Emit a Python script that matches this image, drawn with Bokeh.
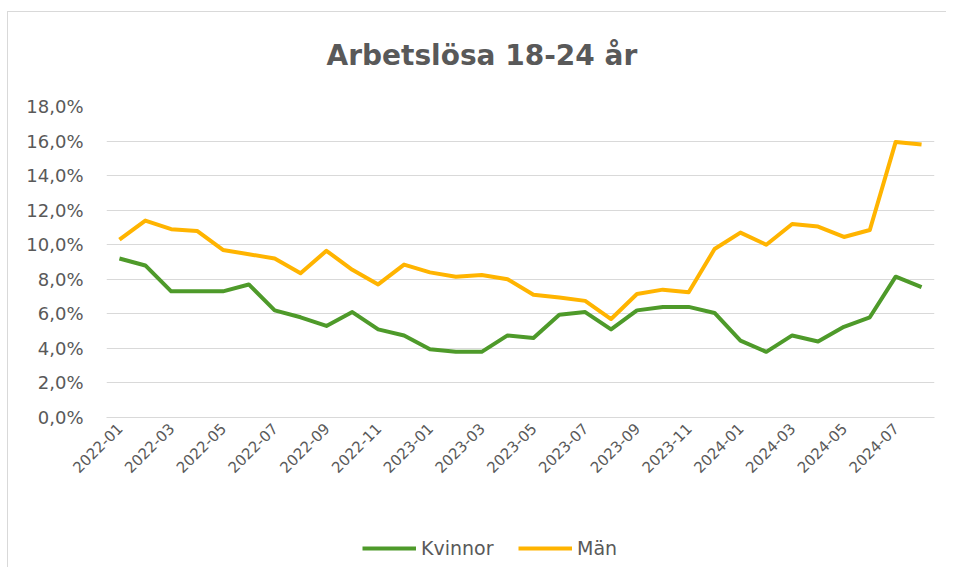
from bokeh.plotting import figure
from bokeh.models import Legend, LegendItem, FixedTicker, Range1d, Label
from bokeh.layouts import column
from bokeh.embed import file_html
from bokeh.resources import INLINE
import math

# ---- data ----
months = ["2022-01", "2022-02", "2022-03", "2022-04", "2022-05", "2022-06",
          "2022-07", "2022-08", "2022-09", "2022-10", "2022-11", "2022-12",
          "2023-01", "2023-02", "2023-03", "2023-04", "2023-05", "2023-06",
          "2023-07", "2023-08", "2023-09", "2023-10", "2023-11", "2023-12",
          "2024-01", "2024-02", "2024-03", "2024-04", "2024-05", "2024-06",
          "2024-07", "2024-08"]
kvinnor = [9.2, 8.8, 7.3, 7.3, 7.3, 7.7, 6.2, 5.8, 5.3, 6.1, 5.1, 4.75,
           3.95, 3.8, 3.8, 4.75, 4.6, 5.95, 6.1, 5.1, 6.2, 6.4, 6.4, 6.05,
           4.45, 3.8, 4.75, 4.4, 5.25, 5.8, 8.15, 7.55]
man = [10.3, 11.4, 10.9, 10.8, 9.7, 9.45, 9.2, 8.35, 9.65, 8.55, 7.7, 8.85,
       8.4, 8.15, 8.25, 8.0, 7.1, 6.95, 6.75, 5.7, 7.15, 7.4, 7.25, 9.75,
       10.7, 10.0, 11.2, 11.05, 10.45, 10.85, 15.95, 15.8]
y_ticks = [0, 2, 4, 6, 8, 10, 12, 14, 16, 18]
y_tick_labels = ["0,0%", "2,0%", "4,0%", "6,0%", "8,0%", "10,0%", "12,0%",
                 "14,0%", "16,0%", "18,0%"]
title_text = "Arbetslösa 18-24 år"
series_names = ["Kvinnor", "Män"]

x = list(range(len(months)))
x_ticks = x[::2]

TXT = "#595959"
GRID = "#d9d9d9"
GREEN = "#4E9A2A"
GOLD = "#FFB400"
W = 938
FW = 828

# ---- title strip (its frame is aligned with the chart frame) ----
p0 = figure(width=W, height=60, min_border=0, output_backend="svg",
            toolbar_location=None, x_range=Range1d(0, FW), y_range=Range1d(0, 60),
            x_axis_location=None, y_axis_location=None)
p0.grid.visible = False
p0.outline_line_color = None
p0.add_layout(Label(x=220, y=17, text=title_text, text_align="left",
                    text_baseline="middle", text_font="DejaVu Sans",
                    text_font_style="bold", text_font_size="28px",
                    text_color=TXT))

# ---- main chart ----
p = figure(frame_width=FW, frame_height=311, output_backend="svg",
           toolbar_location=None, title=None,
           min_border_left=98, min_border_right=12, min_border_top=34,
           min_border_bottom=114,
           x_range=Range1d(-0.5, len(months) - 0.5), y_range=Range1d(0, 18))
p.outline_line_color = None
p.background_fill_color = "white"

p.yaxis.ticker = FixedTicker(ticks=y_ticks)
p.yaxis.major_label_overrides = {t: l for t, l in zip(y_ticks, y_tick_labels)}
p.yaxis.axis_line_color = None
p.yaxis.major_tick_line_color = None
p.yaxis.major_tick_out = 0
p.yaxis.major_tick_in = 0
p.yaxis.minor_tick_line_color = None
p.yaxis.major_label_standoff = 23
p.yaxis.major_label_text_font = "DejaVu Sans"
p.yaxis.major_label_text_font_size = "18px"
p.yaxis.major_label_text_color = TXT

p.xaxis.ticker = FixedTicker(ticks=x_ticks)
p.xaxis.major_label_overrides = {i: months[i] for i in x_ticks}
p.xaxis.major_label_orientation = math.pi / 4
p.xaxis.axis_line_color = GRID
p.xaxis.major_tick_line_color = None
p.xaxis.major_tick_out = 0
p.xaxis.major_tick_in = 0
p.xaxis.minor_tick_line_color = None
p.xaxis.major_label_standoff = 8
p.xaxis.major_label_text_font = "DejaVu Sans"
p.xaxis.major_label_text_font_size = "15px"
p.xaxis.major_label_text_color = TXT

p.xgrid.grid_line_color = None
p.ygrid.ticker = FixedTicker(ticks=y_ticks)
p.ygrid.grid_line_color = GRID
p.ygrid.grid_line_width = 1

p.line(x, kvinnor, line_color=GREEN, line_width=4, line_join="round")
p.line(x, man, line_color=GOLD, line_width=4, line_join="round")

# ---- legend strip (same series, drawn out of view; legend shows keys) ----
p2 = figure(width=W, height=36, min_border=0, output_backend="svg",
            toolbar_location=None, x_range=Range1d(-0.5, len(months) - 0.5),
            y_range=Range1d(100, 101), x_axis_location=None,
            y_axis_location=None)
p2.grid.visible = False
p2.outline_line_color = None
l1 = p2.line(x, kvinnor, line_color=GREEN, line_width=4)
l2 = p2.line(x, man, line_color=GOLD, line_width=4)
legend = Legend(items=[LegendItem(label=series_names[0], renderers=[l1]),
                       LegendItem(label=series_names[1], renderers=[l2])],
                orientation="horizontal", location=(256, 8),
                border_line_color=None, background_fill_alpha=0,
                padding=0, margin=0, spacing=0, glyph_width=54,
                glyph_height=20, label_standoff=5, label_width=97,
                label_text_font="DejaVu Sans", label_text_font_size="19px",
                label_text_color=TXT)
p2.add_layout(legend, "center")

layout = column(p0, p, p2, spacing=0)
layout.styles = {"border-left": "1px solid #d9d9d9",
                 "border-top": "1px solid #d9d9d9",
                 "margin-top": "11px", "margin-left": "7px"}

open("out.html", "w").write(file_html(layout, INLINE))
